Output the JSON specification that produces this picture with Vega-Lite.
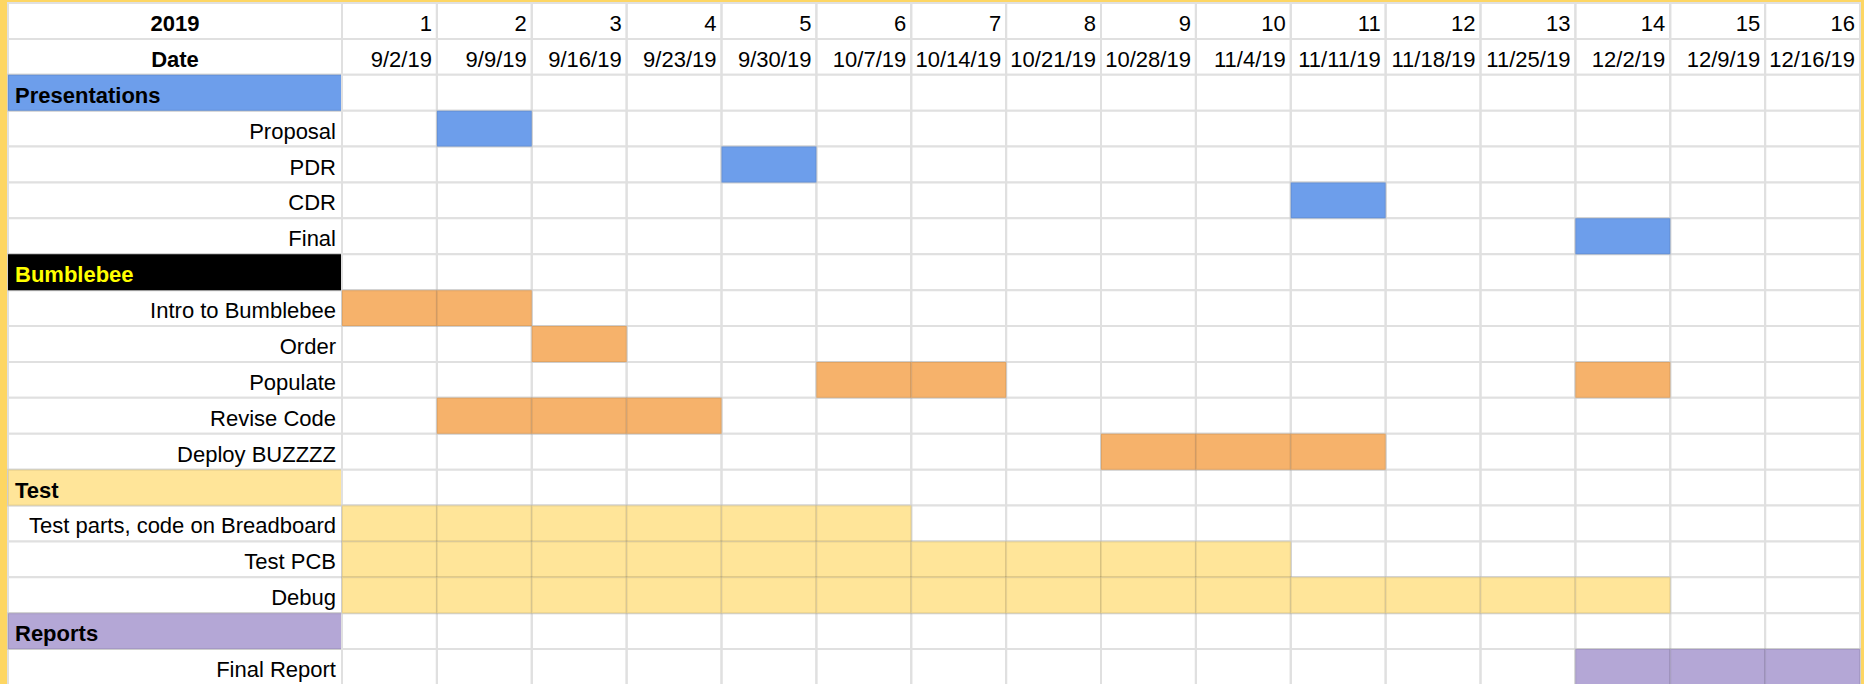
{
  "$schema": "https://vega.github.io/schema/vega-lite/v6.json",
  "background": "#fdd663",
  "padding": {"left": 7, "top": 2, "right": 3, "bottom": 0},
  "spacing": 0,
  "bounds": "flush",
  "config": {
    "view": {"stroke": null, "fill": "#ffffff"},
    "font": "Liberation Sans",
    "text": {"font": "Liberation Sans", "fontSize": 22, "baseline": "alphabetic", "dy": 10, "color": "#000000"},
    "scale": {"bandPaddingInner": 0, "bandPaddingOuter": 0}
  },
  "resolve": {"scale": {"color": "independent"}},
  "datasets": {
    "rows": [
      {"label": "2019", "kind": "header"},
      {"label": "Date", "kind": "header"},
      {"label": "Presentations", "kind": "section"},
      {"label": "Proposal", "kind": "task"},
      {"label": "PDR", "kind": "task"},
      {"label": "CDR", "kind": "task"},
      {"label": "Final", "kind": "task"},
      {"label": "Bumblebee", "kind": "section"},
      {"label": "Intro to Bumblebee", "kind": "task"},
      {"label": "Order", "kind": "task"},
      {"label": "Populate", "kind": "task"},
      {"label": "Revise Code", "kind": "task"},
      {"label": "Deploy BUZZZZ", "kind": "task"},
      {"label": "Test", "kind": "section"},
      {"label": "Test parts, code on Breadboard", "kind": "task"},
      {"label": "Test PCB", "kind": "task"},
      {"label": "Debug", "kind": "task"},
      {"label": "Reports", "kind": "section"},
      {"label": "Final Report", "kind": "task"}
    ],
    "weeks": [
      {"week": 1, "date": "9/2/19"},
      {"week": 2, "date": "9/9/19"},
      {"week": 3, "date": "9/16/19"},
      {"week": 4, "date": "9/23/19"},
      {"week": 5, "date": "9/30/19"},
      {"week": 6, "date": "10/7/19"},
      {"week": 7, "date": "10/14/19"},
      {"week": 8, "date": "10/21/19"},
      {"week": 9, "date": "10/28/19"},
      {"week": 10, "date": "11/4/19"},
      {"week": 11, "date": "11/11/19"},
      {"week": 12, "date": "11/18/19"},
      {"week": 13, "date": "11/25/19"},
      {"week": 14, "date": "12/2/19"},
      {"week": 15, "date": "12/9/19"},
      {"week": 16, "date": "12/16/19"}
    ],
    "cells": [
      {"task": "Proposal", "group": "Presentations", "week": 2},
      {"task": "PDR", "group": "Presentations", "week": 5},
      {"task": "CDR", "group": "Presentations", "week": 11},
      {"task": "Final", "group": "Presentations", "week": 14},
      {"task": "Intro to Bumblebee", "group": "Bumblebee", "week": 1},
      {"task": "Intro to Bumblebee", "group": "Bumblebee", "week": 2},
      {"task": "Order", "group": "Bumblebee", "week": 3},
      {"task": "Populate", "group": "Bumblebee", "week": 6},
      {"task": "Populate", "group": "Bumblebee", "week": 7},
      {"task": "Populate", "group": "Bumblebee", "week": 14},
      {"task": "Revise Code", "group": "Bumblebee", "week": 2},
      {"task": "Revise Code", "group": "Bumblebee", "week": 3},
      {"task": "Revise Code", "group": "Bumblebee", "week": 4},
      {"task": "Deploy BUZZZZ", "group": "Bumblebee", "week": 9},
      {"task": "Deploy BUZZZZ", "group": "Bumblebee", "week": 10},
      {"task": "Deploy BUZZZZ", "group": "Bumblebee", "week": 11},
      {"task": "Test parts, code on Breadboard", "group": "Test", "week": 1},
      {"task": "Test parts, code on Breadboard", "group": "Test", "week": 2},
      {"task": "Test parts, code on Breadboard", "group": "Test", "week": 3},
      {"task": "Test parts, code on Breadboard", "group": "Test", "week": 4},
      {"task": "Test parts, code on Breadboard", "group": "Test", "week": 5},
      {"task": "Test parts, code on Breadboard", "group": "Test", "week": 6},
      {"task": "Test PCB", "group": "Test", "week": 1},
      {"task": "Test PCB", "group": "Test", "week": 2},
      {"task": "Test PCB", "group": "Test", "week": 3},
      {"task": "Test PCB", "group": "Test", "week": 4},
      {"task": "Test PCB", "group": "Test", "week": 5},
      {"task": "Test PCB", "group": "Test", "week": 6},
      {"task": "Test PCB", "group": "Test", "week": 7},
      {"task": "Test PCB", "group": "Test", "week": 8},
      {"task": "Test PCB", "group": "Test", "week": 9},
      {"task": "Test PCB", "group": "Test", "week": 10},
      {"task": "Debug", "group": "Test", "week": 1},
      {"task": "Debug", "group": "Test", "week": 2},
      {"task": "Debug", "group": "Test", "week": 3},
      {"task": "Debug", "group": "Test", "week": 4},
      {"task": "Debug", "group": "Test", "week": 5},
      {"task": "Debug", "group": "Test", "week": 6},
      {"task": "Debug", "group": "Test", "week": 7},
      {"task": "Debug", "group": "Test", "week": 8},
      {"task": "Debug", "group": "Test", "week": 9},
      {"task": "Debug", "group": "Test", "week": 10},
      {"task": "Debug", "group": "Test", "week": 11},
      {"task": "Debug", "group": "Test", "week": 12},
      {"task": "Debug", "group": "Test", "week": 13},
      {"task": "Debug", "group": "Test", "week": 14},
      {"task": "Final Report", "group": "Reports", "week": 14},
      {"task": "Final Report", "group": "Reports", "week": 15},
      {"task": "Final Report", "group": "Reports", "week": 16}
    ]
  },
  "hconcat": [
    {
      "width": 334,
      "height": 682,
      "data": {"name": "rows"},
      "layer": [
        {
          "mark": {"type": "rect", "fill": "#ffffff", "stroke": "#e0e0e0", "strokeWidth": 2},
          "encoding": {
            "x": {"datum": "Task", "type": "nominal", "axis": null, "scale": {"type": "band", "domain": ["Task"]}},
            "y": {"field": "label", "type": "nominal", "sort": null, "axis": null,
              "scale": {"domain": ["2019", "Date", "Presentations", "Proposal", "PDR", "CDR", "Final", "Bumblebee", "Intro to Bumblebee", "Order", "Populate", "Revise Code", "Deploy BUZZZZ", "Test", "Test parts, code on Breadboard", "Test PCB", "Debug", "Reports", "Final Report"]}}
          }
        },
        {
          "transform": [{"filter": "datum.kind === 'section'"}],
          "mark": {"type": "rect", "stroke": "#000000", "strokeOpacity": 0.08, "strokeWidth": 2},
          "encoding": {
            "x": {"datum": "Task", "type": "nominal", "axis": null},
            "y": {"field": "label", "type": "nominal", "sort": null, "axis": null},
            "color": {"field": "label", "type": "nominal", "legend": null,
              "scale": {"domain": ["Presentations", "Bumblebee", "Test", "Reports"], "range": ["#6d9eeb", "#000000", "#ffe599", "#b4a7d6"]}}
          }
        },
        {
          "transform": [{"filter": "datum.kind === 'header'"}],
          "mark": {"type": "text", "align": "center", "fontWeight": "bold"},
          "encoding": {
            "x": {"datum": "Task", "type": "nominal", "bandPosition": 0.5, "axis": null},
            "y": {"field": "label", "type": "nominal", "sort": null, "axis": null},
            "text": {"field": "label"}
          }
        },
        {
          "transform": [{"filter": "datum.kind === 'section'"}],
          "mark": {"type": "text", "align": "left", "fontWeight": "bold", "dx": 7},
          "encoding": {
            "x": {"datum": "Task", "type": "nominal", "bandPosition": 0, "axis": null},
            "y": {"field": "label", "type": "nominal", "sort": null, "axis": null},
            "text": {"field": "label"},
            "color": {"condition": {"test": "datum.label === 'Bumblebee'", "value": "#ffff00"}, "value": "#000000"}
          }
        },
        {
          "transform": [{"filter": "datum.kind === 'task'"}],
          "mark": {"type": "text", "align": "right", "dx": -6},
          "encoding": {
            "x": {"datum": "Task", "type": "nominal", "bandPosition": 1, "axis": null},
            "y": {"field": "label", "type": "nominal", "sort": null, "axis": null},
            "text": {"field": "label"}
          }
        }
      ]
    },
    {
      "width": 1518,
      "height": 682,
      "layer": [
        {
          "data": {"name": "rows"},
          "mark": {"type": "rect", "fill": "#ffffff", "stroke": "#e0e0e0", "strokeWidth": 2},
          "encoding": {
            "y": {"field": "label", "type": "nominal", "sort": null, "axis": null,
              "scale": {"domain": ["2019", "Date", "Presentations", "Proposal", "PDR", "CDR", "Final", "Bumblebee", "Intro to Bumblebee", "Order", "Populate", "Revise Code", "Deploy BUZZZZ", "Test", "Test parts, code on Breadboard", "Test PCB", "Debug", "Reports", "Final Report"]}}
          }
        },
        {
          "data": {"name": "weeks"},
          "mark": {"type": "rect", "fillOpacity": 0, "stroke": "#e0e0e0", "strokeWidth": 2},
          "encoding": {
            "x": {"field": "week", "type": "ordinal", "axis": null,
              "scale": {"type": "band", "domain": [1, 2, 3, 4, 5, 6, 7, 8, 9, 10, 11, 12, 13, 14, 15, 16]}}
          }
        },
        {
          "data": {"name": "cells"},
          "mark": {"type": "rect", "stroke": "#000000", "strokeOpacity": 0.08, "strokeWidth": 2},
          "encoding": {
            "x": {"field": "week", "type": "ordinal", "axis": null},
            "y": {"field": "task", "type": "nominal", "sort": null, "axis": null},
            "color": {"field": "group", "type": "nominal", "legend": null,
              "scale": {"domain": ["Presentations", "Bumblebee", "Test", "Reports"], "range": ["#6d9eeb", "#f6b26b", "#ffe599", "#b4a7d6"]}}
          }
        },
        {
          "data": {"name": "weeks"},
          "mark": {"type": "text", "align": "right", "dx": -5},
          "encoding": {
            "x": {"field": "week", "type": "ordinal", "bandPosition": 1, "axis": null},
            "y": {"datum": "2019", "type": "nominal", "axis": null},
            "text": {"field": "week", "type": "nominal"}
          }
        },
        {
          "data": {"name": "weeks"},
          "mark": {"type": "text", "align": "right", "dx": -5},
          "encoding": {
            "x": {"field": "week", "type": "ordinal", "bandPosition": 1, "axis": null},
            "y": {"datum": "Date", "type": "nominal", "axis": null},
            "text": {"field": "date", "type": "nominal"}
          }
        }
      ]
    }
  ]
}
